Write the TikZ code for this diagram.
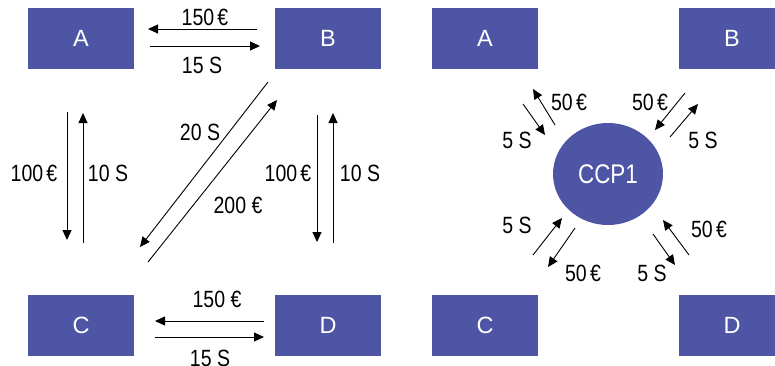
\documentclass[tikz,border=0pt]{standalone}
\usepackage{fontspec}
\setmainfont{Liberation Sans}
\usetikzlibrary{arrows.meta,shapes.geometric}
\definecolor{boxblue}{HTML}{4D55A4}
\newcommand{\narrowtxt}[1]{\scalebox{0.83}[1]{#1}}
\begin{document}
\begin{tikzpicture}[x=1pt,y=-1pt,
  party/.style={fill=boxblue, minimum width=106pt, minimum height=61pt, inner sep=0pt,
    text=white, font=\fontsize{23.5}{28}\selectfont},
  hub/.style={ellipse, fill=boxblue, minimum width=110pt, minimum height=102pt, inner sep=0pt,
    text=white, font=\fontsize{27}{32}\selectfont},
  flow/.style={-{Triangle[length=10pt,width=9pt]}, line width=0.9pt},
  lbl/.style={font=\fontsize{23.5}{28}\selectfont, inner sep=0pt}]
\useasboundingbox (0,0) rectangle (775,365);

% ---------- left panel: bilateral ----------
\node[party] (A) at (81,38.5) {A};
\node[party] (B) at (328,38.5) {B};
\node[party] (C) at (81,325.5) {C};
\node[party] (D) at (328,325.5) {D};

\coordinate (ab1) at (257,29);  \coordinate (ab2) at (148,29);
\coordinate (ab3) at (150,46);  \coordinate (ab4) at (260,46);
\coordinate (cd1) at (264,321); \coordinate (cd2) at (155,321);
\coordinate (cd3) at (155,337); \coordinate (cd4) at (264,337);
\coordinate (ac1) at (67,112);  \coordinate (ac2) at (67,240);
\coordinate (ac3) at (83,243);  \coordinate (ac4) at (83,113);
\coordinate (bd1) at (317,115); \coordinate (bd2) at (317,242);
\coordinate (bd3) at (333,243); \coordinate (bd4) at (333,113);
\coordinate (bc1) at (268,82);  \coordinate (bc2) at (140,247);
\coordinate (bc3) at (148,262); \coordinate (bc4) at (277,100);

\draw[flow] (ab1) -- (ab2);
\draw[flow] (ab3) -- (ab4);
\draw[flow] (cd1) -- (cd2);
\draw[flow] (cd3) -- (cd4);
\draw[flow] (ac1) -- (ac2);
\draw[flow] (ac3) -- (ac4);
\draw[flow] (bd1) -- (bd2);
\draw[flow] (bd3) -- (bd4);
\draw[flow] (bc1) -- (bc2);
\draw[flow] (bc3) -- (bc4);

\node[lbl] (l1) at (205,17)  {\narrowtxt{150\,€}};
\node[lbl] (l2) at (202,65)  {\narrowtxt{15 S}};
\node[lbl] (l3) at (217,299) {\narrowtxt{150 €}};
\node[lbl] (l4) at (210,358) {\narrowtxt{15 S}};
\node[lbl] (l5) at (34,173)  {\narrowtxt{100\,€}};
\node[lbl] (l6) at (108,173) {\narrowtxt{10 S}};
\node[lbl] (l7) at (288,173) {\narrowtxt{100\,€}};
\node[lbl] (l8) at (360,173) {\narrowtxt{10 S}};
\node[lbl] (l9) at (200,132) {\narrowtxt{20 S}};
\node[lbl] (l10) at (238,205) {\narrowtxt{200 €}};

% ---------- right panel: CCP ----------
\node[party] (A2) at (485,38.5) {A};
\node[party] (B2) at (732,38.5) {B};
\node[party] (C2) at (485,325.5) {C};
\node[party] (D2) at (732,325.5) {D};
\node[hub] (ccp) at (608,174) {\narrowtxt{CCP1}};

\coordinate (r1a) at (523,104); \coordinate (r1b) at (545,135);
\coordinate (r2a) at (555,125); \coordinate (r2b) at (533,89);
\coordinate (r3a) at (685,93);  \coordinate (r3b) at (655,130);
\coordinate (r4a) at (670,137); \coordinate (r4b) at (698,104);
\coordinate (r5a) at (533,255); \coordinate (r5b) at (562,218);
\coordinate (r6a) at (575,228); \coordinate (r6b) at (548,267);
\coordinate (r7a) at (689,255); \coordinate (r7b) at (663,220);
\coordinate (r8a) at (653,234); \coordinate (r8b) at (675,265);

\draw[flow] (r1a) -- (r1b);
\draw[flow] (r2a) -- (r2b);
\draw[flow] (r3a) -- (r3b);
\draw[flow] (r4a) -- (r4b);
\draw[flow] (r5a) -- (r5b);
\draw[flow] (r6a) -- (r6b);
\draw[flow] (r7a) -- (r7b);
\draw[flow] (r8a) -- (r8b);

\node[lbl] (m1) at (517,140) {\narrowtxt{5 S}};
\node[lbl] (m2) at (569,102) {\narrowtxt{50\,€}};
\node[lbl] (m3) at (650,102) {\narrowtxt{50\,€}};
\node[lbl] (m4) at (703,140) {\narrowtxt{5 S}};
\node[lbl] (m5) at (517,225) {\narrowtxt{5 S}};
\node[lbl] (m6) at (583,273) {\narrowtxt{50\,€}};
\node[lbl] (m7) at (709,229) {\narrowtxt{50\,€}};
\node[lbl] (m8) at (652,273) {\narrowtxt{5 S}};
\end{tikzpicture}
\end{document}
